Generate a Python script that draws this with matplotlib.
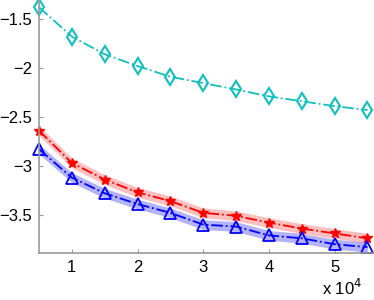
import matplotlib
matplotlib.use("Agg")
import matplotlib.pyplot as plt
import numpy as np

plt.rcParams["font.family"] = ["Liberation Sans", "DejaVu Sans"]

x = [5000, 10000, 15000, 20000, 25000, 30000, 35000, 40000, 45000, 50000, 55000]
cyan_y = [-1.38, -1.68, -1.86, -1.98, -2.09, -2.155, -2.22, -2.29, -2.34, -2.39, -2.43]
red_y = [-2.64, -2.97, -3.14, -3.27, -3.36, -3.48, -3.51, -3.58, -3.64, -3.69, -3.74]
blue_y = [-2.83, -3.12, -3.28, -3.39, -3.48, -3.60, -3.62, -3.71, -3.74, -3.80, -3.83]
band = 0.05

xticks = [10000, 20000, 30000, 40000, 50000]
xtick_labels = ["1", "2", "3", "4", "5"]
yticks = [-3.5, -3, -2.5, -2, -1.5]
ytick_labels = ["\u22123.5", "\u22123", "\u22122.5", "\u22122", "\u22121.5"]

fig = plt.figure(figsize=(3.74, 3.0), dpi=100)
ax = fig.add_axes([39 / 374, 47 / 300, 335 / 374, 253 / 300])

red = np.array(red_y)
blue = np.array(blue_y)
ax.fill_between(x, red - band, red + band, color="#ff0000", alpha=0.25, lw=0)
ax.fill_between(x, blue - band, blue + band, color="#0000ff", alpha=0.3, lw=0)

ax.plot(x, cyan_y, color="#10bfbf", ls="-.", lw=1.3, marker="d", ms=8,
        mfc="none", mec="#10bfbf", mew=1.5, clip_on=False)
ax.plot(x, red_y, color="#ff0000", ls="-.", lw=1.3, marker="*", ms=7,
        mec="#ff0000", clip_on=False)
ax.plot(x, blue_y, color="#0000ff", ls="-.", lw=1.3, marker="^", ms=8,
        mfc="none", mec="#0000ff", mew=1.3, clip_on=False)

ax.set_xlim(5000, 56000)
ax.set_ylim(-3.89, -1.306)
ax.set_xticks(xticks)
ax.set_xticklabels(xtick_labels)
ax.set_yticks(yticks)
ax.set_yticklabels(ytick_labels)
ax.tick_params(direction="in", length=3, color="#999999", labelsize=12, pad=5)
for side in ["top", "right"]:
    ax.spines[side].set_visible(False)
for side in ["left", "bottom"]:
    ax.spines[side].set_color("#999999")
    ax.spines[side].set_linewidth(1.2)

fig.text(0.968, 0.008, "x 10$^4$", ha="right", va="bottom", fontsize=12)

fig.savefig("out.png", dpi=100)
